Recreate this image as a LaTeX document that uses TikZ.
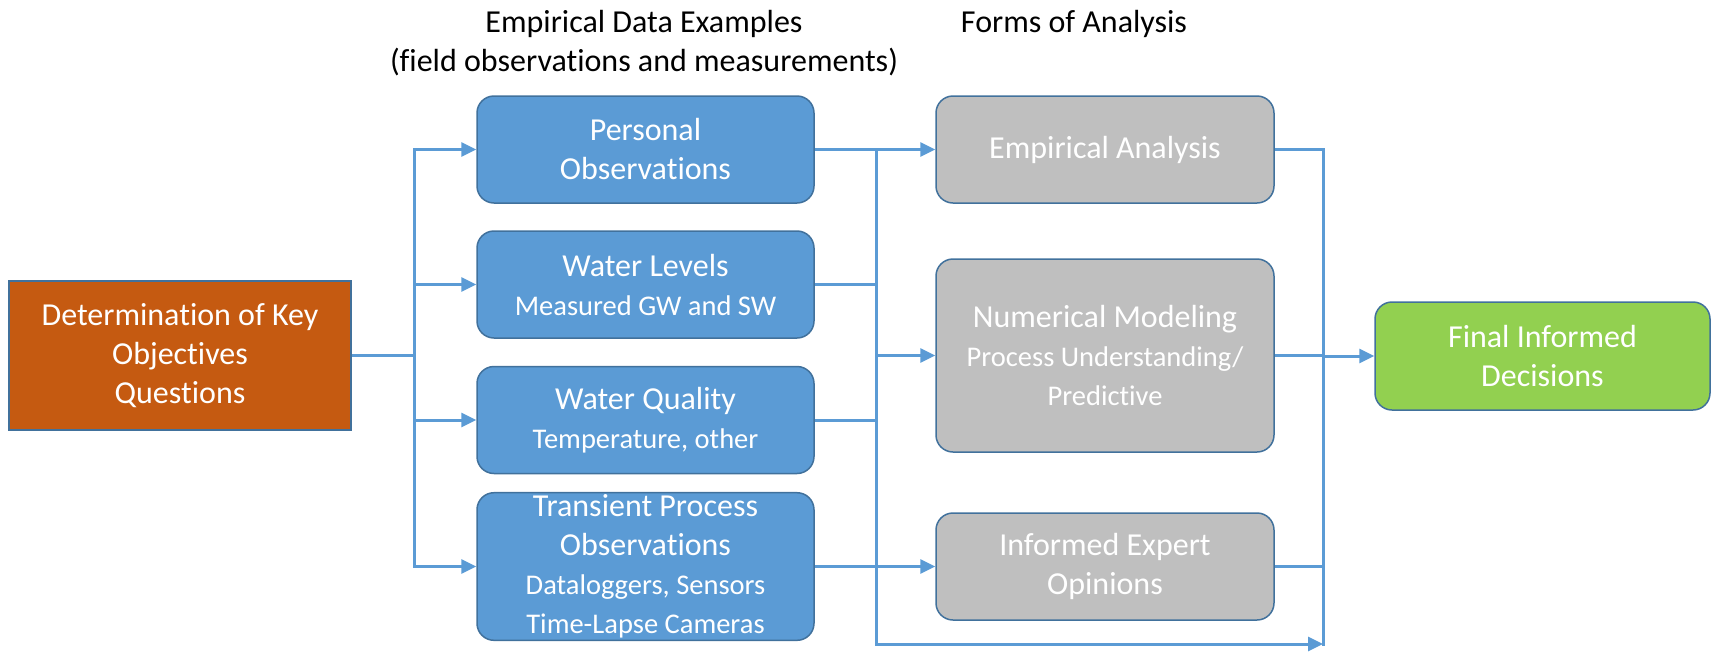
\documentclass[tikz,border=0pt]{standalone}
\usepackage{fontspec}
\setmainfont{Carlito}[Ligatures=NoCommon]
\usetikzlibrary{arrows.meta,calc}
\definecolor{lineblue}{HTML}{5B9BD5}
\definecolor{boxblue}{HTML}{5B9BD5}
\definecolor{edgeblue}{HTML}{41719C}
\definecolor{boxgray}{HTML}{BFBFBF}
\definecolor{boxorange}{HTML}{C55A11}
\definecolor{boxgreen}{HTML}{92D050}
\newcommand{\mainsz}{\fontsize{32}{39}\selectfont}
\newcommand{\subsz}{\fontsize{28.5}{34}\selectfont}
\tikzset{
  basebox/.style={draw=edgeblue, line width=1.5pt, text=white, align=center, inner sep=2pt, font=\mainsz},
  bluebox/.style={basebox, fill=boxblue, rounded corners=17pt, minimum width=337pt},
  graybox/.style={basebox, fill=boxgray, rounded corners=17pt, minimum width=338pt},
  orangebox/.style={basebox, fill=boxorange, minimum width=342pt, minimum height=149pt},
  greenbox/.style={basebox, fill=boxgreen, rounded corners=17pt, minimum width=335pt, minimum height=108pt},
  header/.style={align=center, font=\mainsz, text=black},
  conn/.style={draw=lineblue, line width=3pt},
  arr/.style={conn, -{Triangle[length=15pt,width=14pt]}}
}
\begin{document}
\begin{tikzpicture}[x=1pt,y=-1pt]
\useasboundingbox (0,0) rectangle (1713,654);
% headers
\node[header] (h1) at (644,43) {Empirical Data Examples\\(field observations and measurements)};
\node[header] (h2) at (1074,24) {Forms of Analysis};
% boxes
\node[orangebox] (obj) at (180,355.5) {Determination of Key\\Objectives\\Questions};
\node[bluebox, minimum height=107pt] (po) at (645.5,149.5) {Personal\\Observations};
\node[bluebox, minimum height=107pt] (wl) at (645.5,284.5) {Water Levels\\{\subsz Measured GW and SW}};
\node[bluebox, minimum height=107pt] (wq) at (645.5,420) {Water Quality\\{\subsz Temperature, other}};
\node[bluebox, minimum height=139pt] (tp) at (645.5,566.5) {Transient Process\\Observations\\{\subsz Dataloggers, Sensors}\\{\subsz Time-Lapse Cameras}};
\node[graybox, minimum height=107pt] (ea) at (1105,149.5) {Empirical Analysis};
\node[graybox, minimum height=193pt] (nm) at (1105,355.5) {Numerical Modeling\\{\subsz Process Understanding/}\\{\subsz Predictive}};
\node[graybox, minimum height=107pt] (ie) at (1105,566.5) {Informed Expert\\Opinions};
\node[greenbox] (fd) at (1542.5,356) {Final Informed\\Decisions};
% bus coordinates
\coordinate (lb) at (414,355.5);
\coordinate (lbtop) at (414,149.5);
\coordinate (lbbot) at (414,566.5);
\coordinate (mbtop) at (876,149.5);
\coordinate (mbbot) at (876,644);
\coordinate (rbtop) at (1323,149.5);
\coordinate (rbbot) at (1323,644);
% left bus
\draw[conn] (obj.east) -- (lb);
\draw[conn, line cap=rect] (lbtop) -- (lbbot);
\draw[arr] (lbtop) -- (po.west);
\draw[arr] (lbtop |- wl.west) -- (wl.west);
\draw[arr] (lbtop |- wq.west) -- (wq.west);
\draw[arr] (lbbot) -- (tp.west);
% middle bus
\draw[conn] (po.east) -- (mbtop |- po.east);
\draw[conn] (wl.east) -- (mbtop |- wl.east);
\draw[conn] (wq.east) -- (mbtop |- wq.east);
\draw[conn] (tp.east) -- (mbtop |- tp.east);
\draw[conn, line cap=rect] (mbtop) -- (mbbot);
\draw[arr] (mbtop) -- (ea.west);
\draw[arr] (mbtop |- nm.west) -- (nm.west);
\draw[arr] (mbtop |- ie.west) -- (ie.west);
\draw[arr] (mbbot) -- (rbbot);
% right bus
\draw[conn] (ea.east) -- (rbtop |- ea.east);
\draw[conn] (nm.east) -- (rbtop |- nm.east);
\draw[conn] (ie.east) -- (rbtop |- ie.east);
\draw[conn, line cap=rect] (rbtop) -- (rbbot);
\draw[arr] (rbtop |- fd.west) -- (fd.west);
\end{tikzpicture}
\end{document}
